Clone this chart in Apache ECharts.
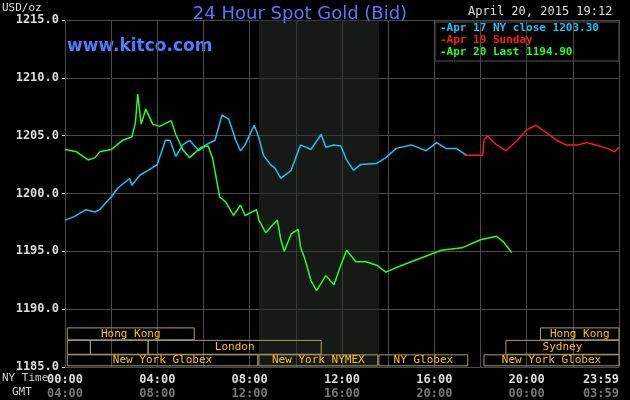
<!DOCTYPE html>
<html><head><meta charset="utf-8">
<script src="https://cdn.jsdelivr.net/npm/echarts@6/dist/echarts.min.js"></script>
<style>html,body{margin:0;padding:0;background:#000}#c{width:630px;height:400px}</style>
</head><body><div id="c"></div>
<script>
// hours since 00:00 NY time, price
const apr17 = [[0,1197.7],[0.4,1198],[0.9,1198.6],[1.3,1198.4],[1.5,1198.6],[2.0,1199.7],[2.3,1200.5],[2.8,1201.3],[2.9,1200.7],[3.25,1201.6],[3.6,1202],[4.0,1202.5],[4.35,1204.6],[4.55,1204.6],[4.8,1203.2],[5.1,1204.2],[5.4,1204.6],[5.8,1203.7],[6.1,1204.2],[6.5,1204.6],[6.8,1206.8],[7.1,1206.4],[7.4,1204.6],[7.6,1203.7],[7.8,1204.2],[8.2,1205.9],[8.4,1204.8],[8.6,1203.3],[8.9,1202.5],[9.1,1202.2],[9.35,1201.3],[9.8,1202],[10.2,1204.2],[10.65,1203.8],[11.1,1205.1],[11.3,1204],[11.65,1204.2],[11.95,1204.1],[12.2,1202.9],[12.5,1202],[12.8,1202.5],[13.5,1202.6],[13.9,1203.1],[14.35,1203.9],[15.0,1204.2],[15.65,1203.7],[16.1,1204.4],[16.5,1203.9],[16.95,1203.9],[17.4,1203.3]];
const apr19 = [[17.3,1203.3],[18.1,1203.3],[18.15,1204.6],[18.3,1205],[18.7,1204.2],[19.1,1203.7],[19.6,1204.6],[20.0,1205.5],[20.4,1205.9],[20.9,1205.2],[21.3,1204.6],[21.7,1204.2],[22.2,1204.2],[22.6,1204.4],[23.0,1204.2],[23.5,1203.9],[23.8,1203.6],[24,1204]];
const apr20 = [[0,1203.8],[0.5,1203.6],[1.0,1202.9],[1.3,1203.1],[1.5,1203.6],[2.0,1203.8],[2.5,1204.6],[2.9,1204.9],[3.05,1206.1],[3.15,1208.6],[3.3,1206.0],[3.5,1207.3],[3.8,1206.0],[4.1,1205.8],[4.6,1206.3],[4.8,1205.1],[5.1,1203.8],[5.4,1203.1],[5.9,1204.0],[6.2,1204.1],[6.4,1203.0],[6.7,1199.7],[6.95,1199.3],[7.3,1198.1],[7.6,1199.0],[7.8,1198.1],[8.3,1198.6],[8.4,1197.7],[8.7,1196.6],[9.0,1197.3],[9.2,1197.7],[9.35,1196.0],[9.5,1195.0],[9.8,1196.5],[10.1,1196.9],[10.2,1195.4],[10.4,1194.3],[10.65,1192.5],[10.9,1191.6],[11.3,1192.9],[11.65,1192.1],[11.95,1193.8],[12.2,1195.1],[12.6,1194.1],[13.05,1194.1],[13.5,1193.8],[13.9,1193.2],[14.6,1193.8],[15.4,1194.4],[16.3,1195.1],[17.2,1195.3],[18.0,1196.0],[18.7,1196.3],[19.0,1195.8],[19.35,1194.9]];
const yTicks = ['1185.0','1190.0','1195.0','1200.0','1205.0','1210.0','1215.0'];
const nyLabels = ['00:00','04:00','08:00','12:00','16:00','20:00','23:59'];
const gmtLabels = ['04:00','08:00','12:00','16:00','20:00','00:00','03:59'];
// sessions: [start h, end h, row(0 top..2 bottom), name]
const sessions = [[0.1,5.6,0,'Hong Kong'],[0.1,1.1,1,''],[1.1,3.6,1,''],[3.6,11.1,1,'London'],[0.1,8.35,2,'New York Globex'],[8.4,13.55,2,'New York NYMEX'],[13.6,17.45,2,'NY Globex'],[18.15,24,2,'New York Globex'],[19.1,24,1,'Sydney'],[20.6,24,0,'Hong Kong']];
const nymex = [8.4, 13.6];

const rows = [[1187.35,1188.38],[1186.1,1187.3],[1185.1,1186.05]];
const mono = 'DejaVu Sans Mono';
const chart = echarts.init(document.getElementById('c'));
const fmtTime = v => { const i = [0,4,8,12,16,20,24].indexOf(v); return i<0?'':'{a|'+nyLabels[i]+'}\n{b|'+gmtLabels[i]+'}'; };
chart.setOption({
  backgroundColor:'#000',
  animation:false,
  grid:{left:65,right:11,top:20,bottom:33,containLabel:false,outerBoundsMode:'none'},
  title:{text:'24 Hour Spot Gold (Bid)',left:295,textAlign:'center',top:0,textStyle:{color:'#5b74ff',fontSize:18,fontWeight:'normal',fontFamily:'DejaVu Sans'}},
  xAxis:{type:'value',min:0,max:24,interval:2,
    axisLine:{show:false},axisTick:{show:false},
    splitLine:{lineStyle:{color:'#4a4a4a'}},
    axisLabel:{formatter:fmtTime,showMinLabel:true,showMaxLabel:true,alignMaxLabel:'right',margin:6,
      rich:{a:{color:'#ddd',fontFamily:mono,fontWeight:'bold',fontSize:12,lineHeight:14},b:{color:'#777',fontFamily:mono,fontWeight:'bold',fontSize:12,lineHeight:14}}}},
  yAxis:{type:'value',min:1185,max:1215,interval:5,
    axisLine:{show:false},axisTick:{show:true,inside:false,length:3,lineStyle:{color:'#ddd'}},
    splitLine:{lineStyle:{color:'#4a4a4a'}},
    axisLabel:{formatter:v=>yTicks[(v-1185)/5],color:'#ddd',fontFamily:mono,fontWeight:'bold',fontSize:12,margin:6,verticalAlign:'middle'}},
  graphic:[
    {type:'text',left:2,top:3,style:{text:'USD/oz',fill:'#ddd',font:'11px '+mono}},
    {type:'text',left:67,top:38,style:{text:'www.kitco.com',fill:'#4f7dff',font:'bold 17px DejaVu Sans'}},
    {type:'text',left:468,top:6,style:{text:'April 20, 2015 19:12',fill:'#ddd',font:'12px '+mono}},
    {type:'rect',shape:{x:435,y:22,width:184,height:39},style:{fill:'#000',stroke:'#555',lineWidth:1}},
    {type:'text',left:440,top:23,style:{text:'-Apr 17 NY close 1203.30',fill:'#19c3f5',font:'bold 11px '+mono}},
    {type:'text',left:440,top:35,style:{text:'-Apr 19 Sunday',fill:'#ff1a1a',font:'bold 11px '+mono}},
    {type:'text',left:440,top:47,style:{text:'-Apr 20 Last 1194.90',fill:'#22ff22',font:'bold 11px '+mono}},
    {type:'text',left:2,top:373,style:{text:'NY Time',fill:'#ccc',font:'11px '+mono}},
    {type:'text',left:12,top:387,style:{text:'GMT',fill:'#ccc',font:'11px '+mono}}
  ],
  series:[
    {type:'line',data:[],markArea:{silent:true,itemStyle:{color:'rgba(40,46,38,0.55)'},data:[[{xAxis:nymex[0],yAxis:1185},{xAxis:nymex[1],yAxis:1215}]]},z:1},
    {type:'line',data:[],z:5,markArea:{silent:true,
      itemStyle:{color:'rgba(0,0,0,0)',borderColor:'#a89c6a',borderWidth:1},
      label:{position:'inside',color:'#ffc000',fontFamily:mono,fontSize:11},
      data:sessions.map(s=>[{xAxis:s[0],yAxis:rows[s[2]][0],name:s[3]},{xAxis:s[1],yAxis:rows[s[2]][1]}])}},
    {type:'line',data:apr17,showSymbol:false,lineStyle:{color:'#19c3f5',width:1.5},z:3},
    {type:'line',data:apr19,showSymbol:false,lineStyle:{color:'#ff1a1a',width:1.5},z:3},
    {type:'line',data:apr20,showSymbol:false,lineStyle:{color:'#22ff22',width:1.5},z:4}
  ]
});
</script></body></html>
